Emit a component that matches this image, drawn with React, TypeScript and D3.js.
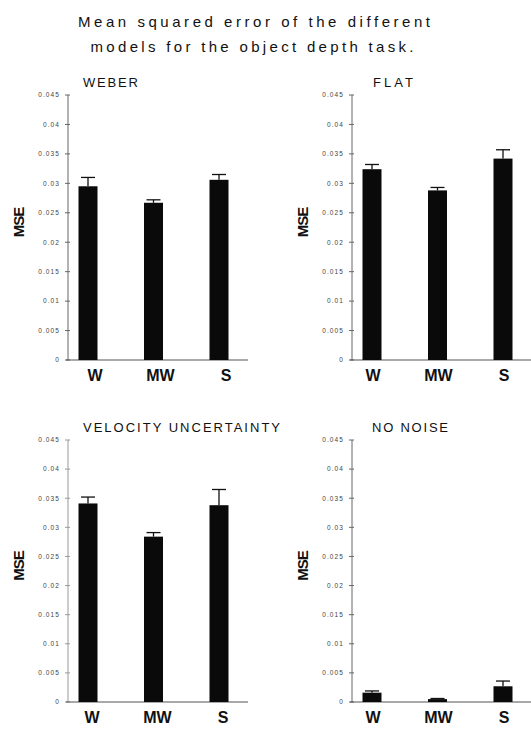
import React from "react";
import * as d3 from "d3";

const categories = ["W", "MW", "S"];
const panelTitles = ["WEBER", "FLAT", "VELOCITY UNCERTAINTY", "NO NOISE"];
const weberMean = [0.0295, 0.0267, 0.0306];
const weberErr = [0.0015, 0.0005, 0.0009];
const flatMean = [0.0324, 0.0288, 0.0342];
const flatErr = [0.0008, 0.0005, 0.0015];
const velMean = [0.0341, 0.0284, 0.0338];
const velErr = [0.0011, 0.0007, 0.0027];
const noNoiseMean = [0.0016, 0.0005, 0.0027];
const noNoiseErr = [0.0003, 0.0001, 0.0009];
const yTicks = [0, 0.005, 0.01, 0.015, 0.02, 0.025, 0.03, 0.035, 0.04, 0.045];
const titleLines = ["Mean squared error of the different", "models for the object depth task."];

const FONT = "'Liberation Sans', Arial, Helvetica, sans-serif";

type PanelProps = {
  title: string;
  titleX: number;
  titleLen: number;
  means: number[];
  errs: number[];
  ax: number; // axis x
  y0: number; // zero y
  yTop: number; // 0.045 y
  labelShift: number;
  faintAxis?: boolean;
};

function Panel({ title, titleX, titleLen, means, errs, ax, y0, yTop, labelShift, faintAxis }: PanelProps) {
  const y = d3.scaleLinear().domain([0, 0.045]).range([y0, yTop]);
  const x = d3.scalePoint<string>().domain(categories).range([ax + 20, ax + 151]);
  const bw = 19;
  const cap = 14;
  const axisColor = faintAxis ? "#999" : "#666";
  return (
    <g>
      <text
        x={titleX}
        y={yTop - 8}
        textAnchor="start"
        fontFamily={FONT}
        fontSize={13}
        textLength={titleLen}
        lengthAdjust="spacing"
        fill="#111"
      >
        {title}
      </text>
      <text
        transform={`translate(${ax - 44},${(y0 + yTop) / 2 - 5}) rotate(-90)`}
        textAnchor="middle"
        fontFamily={FONT}
        fontSize={15}
        fontWeight="bold"
        letterSpacing={-1}
        fill="#111"
      >
        MSE
      </text>
      <line x1={ax} x2={ax} y1={yTop} y2={y0} stroke={axisColor} strokeWidth={1} />
      {yTicks.map((t) => (
        <g key={t}>
          <line x1={ax - 3} x2={ax + 2} y1={y(t)} y2={y(t)} stroke={axisColor} strokeWidth={1} />
          <text
            x={ax - 8}
            y={y(t) + 2.3}
            textAnchor="end"
            fontFamily={FONT}
            fontSize={6.5}
            letterSpacing={1.1}
            fill="#444"
          >
            {String(+t.toFixed(3))}
          </text>
        </g>
      ))}
      <line x1={ax - 2} x2={ax + 180} y1={y0} y2={y0} stroke="#555" strokeWidth={1.2} />
      {categories.map((c, i) => {
        const cx = x(c)!;
        const top = y(means[i]);
        const et = y(means[i] + errs[i]);
        return (
          <g key={c}>
            <line x1={cx} x2={cx} y1={top} y2={et} stroke="#111" strokeWidth={1.3} />
            <line x1={cx - cap / 2} x2={cx + cap / 2} y1={et} y2={et} stroke="#111" strokeWidth={1.3} />
            <rect x={cx - bw / 2} y={top} width={bw} height={y0 - top} fill="#0a0a0a" />
            <text
              x={cx + labelShift}
              y={y0 + 21}
              textAnchor="middle"
              fontFamily={FONT}
              fontSize={16}
              fontWeight="bold"
              fill="#111"
            >
              {c}
            </text>
          </g>
        );
      })}
    </g>
  );
}

export default function App() {
  return (
    <svg width={531} height={729} style={{ position: "absolute", left: 0, top: 0, background: "#fff" }}>
      <rect width={531} height={729} fill="#fff" />
      <text x={254} y={27} textAnchor="middle" fontFamily={FONT} fontSize={15} textLength={352} lengthAdjust="spacing" fill="#111">
        {titleLines[0]}
      </text>
      <text x={252} y={52} textAnchor="middle" fontFamily={FONT} fontSize={15} textLength={323} lengthAdjust="spacing" fill="#111">
        {titleLines[1]}
      </text>
      <Panel title={panelTitles[0]} titleX={83} titleLen={55} means={weberMean} errs={weberErr} ax={68} y0={360} yTop={95} labelShift={7} />
      <Panel title={panelTitles[1]} titleX={373} titleLen={40} means={flatMean} errs={flatErr} ax={352} y0={360} yTop={95} labelShift={1} />
      <Panel title={panelTitles[2]} titleX={83} titleLen={197} means={velMean} errs={velErr} ax={68} y0={702} yTop={440} labelShift={4} faintAxis />
      <Panel title={panelTitles[3]} titleX={372} titleLen={76} means={noNoiseMean} errs={noNoiseErr} ax={352} y0={702} yTop={440} labelShift={1} />
    </svg>
  );
}
